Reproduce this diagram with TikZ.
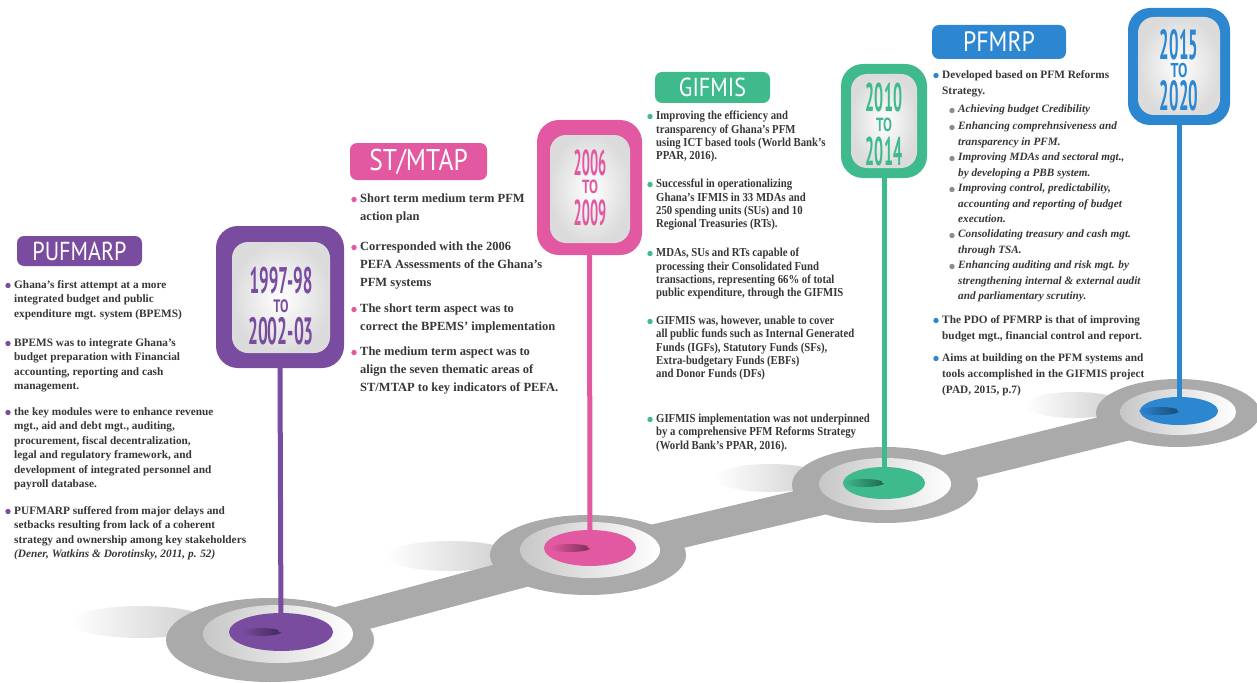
\documentclass[tikz,border=0pt]{standalone}
\usepackage{fontspec}
\usetikzlibrary{shapes.geometric}
\setmainfont{Liberation Serif}
\newfontfamily\labfont[FakeStretch=0.85]{PT Sans}
\newfontfamily\yrfont[FakeStretch=0.4]{PT Sans Bold}
\newfontfamily\yrfontB[FakeStretch=0.46]{PT Sans Bold}
\newfontfamily\tofont[FakeStretch=0.7]{PT Sans Bold}
\newfontfamily\bodyA{Liberation Serif}
\newfontfamily\bodyB[FakeStretch=0.88]{Liberation Serif}
\definecolor{purp}{RGB}{121,76,160}
\definecolor{pinkc}{RGB}{226,88,161}
\definecolor{greenc}{RGB}{62,186,140}
\definecolor{bluec}{RGB}{44,134,208}
\definecolor{txtc}{RGB}{55,55,55}
\definecolor{ringc}{RGB}{170,170,170}
\newcommand\mybul[3][6]{\fill[#2] ([xshift=-#1pt,yshift=-5.5pt]#3.north west) circle (2.7pt);}
\newcommand\stemshade[2]{\shade[left color=#1, right color=#1!55!black] ([xshift=-20pt]#2.center) ellipse [x radius=20, y radius=4];}
\newcommand\yrstack[5]{\vbox{\offinterlineskip\halign{\hfil##\hfil\cr #1\cr\noalign{\kern #4pt}#2\cr\noalign{\kern #5pt}#3\cr}}}
\tikzset{
  para/.style={anchor=north west, align=left, inner sep=0pt, text=txtc},
  lab/.style={rounded corners=7pt, text=white, inner sep=0pt, font=\labfont},
  yrbox/.style={rounded corners=22pt, inner sep=0pt},
  yrin/.style={rounded corners=16pt, inner color=white, outer color=black!14, inner sep=0pt},
  yr/.style={inner sep=0pt, anchor=north},
  ring/.style={ellipse, fill=ringc, inner sep=0pt},
  wring/.style={ellipse, left color=black!22, right color=white, inner sep=0pt},
  disk/.style={ellipse, inner sep=0pt},
  stem/.style={line width=5pt},
  band/.style={line width=30pt, ringc},
}
\begin{document}
\begin{tikzpicture}[x=1pt,y=-1pt]
\useasboundingbox (0,0) rectangle (1257,682);
\fill[white] (0,0) rectangle (1257,682);
% shadows
\shade[left color=white, right color=black!20] (140,622) ellipse [x radius=70, y radius=16];
\shade[left color=white, right color=black!20] (450,556) ellipse [x radius=65, y radius=15];
\shade[left color=white, right color=black!20] (770,478) ellipse [x radius=55, y radius=14];
\shade[left color=white, right color=black!20] (1075,405) ellipse [x radius=50, y radius=13];
% band
\coordinate (c1) at (270,640);
\coordinate (c2) at (588,555);
\coordinate (c3) at (885,485);
\coordinate (c4) at (1178,413);
\draw[band] (c1) -- (c2) -- (c3) -- (c4);
% rings
\node[ring, minimum width=208pt, minimum height=84pt] (g1) at (c1) {};
\node[wring, minimum width=150pt, minimum height=58pt] (w1) at (278,634) {};
\node[disk, fill=purp, minimum width=104pt, minimum height=38pt] (d1) at (281,632) {};
\node[ring, minimum width=196pt, minimum height=80pt] (g2) at (c2) {};
\node[wring, minimum width=140pt, minimum height=56pt] (w2) at (590,550) {};
\node[disk, fill=pinkc, minimum width=92pt, minimum height=36pt] (d2) at (590,548) {};
\node[ring, minimum width=186pt, minimum height=76pt] (g3) at (c3) {};
\node[wring, minimum width=132pt, minimum height=52pt] (w3) at (885,484) {};
\node[disk, fill=greenc, minimum width=82pt, minimum height=32pt] (d3) at (884,483) {};
\node[ring, minimum width=164pt, minimum height=68pt] (g4) at (c4) {};
\node[wring, minimum width=116pt, minimum height=46pt] (w4) at (1178,412) {};
\node[disk, fill=bluec, minimum width=78pt, minimum height=28pt] (d4) at (1179,411) {};
\stemshade{purp}{d1}\stemshade{pinkc}{d2}\stemshade{greenc}{d3}\stemshade{bluec}{d4}
% year boxes
\node[yrbox, fill=purp, minimum width=128pt, minimum height=142pt] (yb1) at (280,297) {};
\node[yrin, minimum width=98pt, minimum height=111pt] (yi1) at (281,297.5) {};
\node[yr, text=purp] (y1) at (281,266.6) {\yrstack{\yrfontB\fontsize{37}{37}\selectfont 1997-98}{\tofont\fontsize{18}{18}\selectfont TO}{\yrfontB\fontsize{38}{38}\selectfont 2002-03}{6.2}{4.4}};
\draw[stem, purp] (yb1.south) -- (d1.center);

\node[yrbox, fill=pinkc, minimum width=105pt, minimum height=135pt] (yb2) at (589.5,187.5) {};
\node[yrin, minimum width=80pt, minimum height=108pt] (yi2) at (590,189) {};
\node[yr, text=pinkc] (y2) at (590,149.9) {\yrstack{\yrfont\fontsize{36}{36}\selectfont 2006}{\tofont\fontsize{19}{19}\selectfont TO}{\yrfont\fontsize{36}{36}\selectfont 2009}{3.8}{5.7}};
\draw[stem, pinkc] (yb2.south) -- (d2.center);

\node[yrbox, fill=greenc, minimum width=86pt, minimum height=114pt] (yb3) at (884,121) {};
\node[yrin, minimum width=66pt, minimum height=94pt] (yi3) at (884,121) {};
\node[yr, text=greenc] (y3) at (884,83) {\yrstack{\yrfont\fontsize{40}{40}\selectfont 2010}{\tofont\fontsize{19}{19}\selectfont TO}{\yrfont\fontsize{40}{40}\selectfont 2014}{5.4}{5.3}};
\draw[stem, greenc] (yb3.south) -- (d3.center);

\node[yrbox, fill=bluec, minimum width=102pt, minimum height=117pt] (yb4) at (1179,66.5) {};
\node[yrin, minimum width=82pt, minimum height=98pt] (yi4) at (1179,66) {};
\node[yr, text=bluec] (y4) at (1179,29.3) {\yrstack{\yrfont\fontsize{42}{42}\selectfont 2015}{\tofont\fontsize{20}{20}\selectfont TO}{\yrfont\fontsize{42}{42}\selectfont 2020}{3.3}{2.3}};
\draw[stem, bluec] (yb4.south) -- (d4.center);

% labels
\node[lab, fill=purp, minimum width=125pt, minimum height=30pt, font=\labfont\fontsize{26}{26}\selectfont] (l1) at (79.5,251) {PUFMARP};
\node[lab, fill=pinkc, minimum width=137pt, minimum height=37pt, font=\labfont\fontsize{30}{30}\selectfont] (l2) at (418.5,161.5) {ST/MTAP};
\node[lab, fill=greenc, minimum width=115pt, minimum height=31pt, font=\labfont\fontsize{26}{26}\selectfont] (l3) at (712.5,87.5) {GIFMIS};
\node[lab, fill=bluec, minimum width=134pt, minimum height=34pt, font=\labfont\fontsize{28}{28}\selectfont] (l4) at (999,42) {PFMRP};

% PUFMARP text
\begin{scope}[every node/.append style={font=\bodyA\bfseries\fontsize{11.3}{14.5}\selectfont}]
\node[para] (pu1) at (14,280) {Ghana’s first attempt at a more\\integrated budget and public\\expenditure mgt. system (BPEMS)};
\node[para] (pu2) at (14,338) {BPEMS was to integrate Ghana’s\\budget preparation with Financial\\accounting, reporting and cash\\management.};
\node[para] (pu3) at (14,407) {the key modules were to enhance revenue\\mgt., aid and debt mgt., auditing,\\procurement, fiscal decentralization,\\legal and regulatory framework, and\\development of integrated personnel and\\payroll database.};
\node[para] (pu4) at (14,506) {PUFMARP suffered from major delays and\\setbacks resulting from lack of a coherent\\strategy and ownership among key stakeholders\\\textit{(Dener, Watkins \& Dorotinsky, 2011, p. 52)}};
\end{scope}
\mybul{purp}{pu1}\mybul{purp}{pu2}\mybul{purp}{pu3}\mybul{purp}{pu4}

% ST/MTAP text
\begin{scope}[every node/.append style={font=\bodyA\bfseries\fontsize{12.5}{18}\selectfont}]
\node[para] (st1) at (360,194) {Short term medium term PFM\\action plan};
\node[para] (st2) at (360,242) {Corresponded with the 2006\\PEFA Assessments of the Ghana’s\\PFM systems};
\node[para] (st3) at (360,304) {The short term aspect was to\\correct the BPEMS’ implementation};
\node[para] (st4) at (360,347) {The medium term aspect was to\\align the seven thematic areas of\\ST/MTAP to key indicators of PEFA.};
\end{scope}
\mybul{pinkc}{st1}\mybul{pinkc}{st2}\mybul{pinkc}{st3}\mybul{pinkc}{st4}

% GIFMIS text
\begin{scope}[every node/.append style={font=\bodyB\bfseries\fontsize{12.2}{13.3}\selectfont}]
\node[para] (gi1) at (656,111) {Improving the efficiency and\\transparency of Ghana’s PFM\\using ICT based tools (World Bank’s\\PPAR, 2016).};
\node[para] (gi2) at (656,179) {Successful in operationalizing\\Ghana’s IFMIS in 33 MDAs and\\250 spending units (SUs) and 10\\Regional Treasuries (RTs).};
\node[para] (gi3) at (656,248) {MDAs, SUs and RTs capable of\\processing their Consolidated Fund\\transactions, representing 66\% of total\\public expenditure, through the GIFMIS};
\node[para] (gi4) at (656,316) {GIFMIS was, however, unable to cover\\all public funds such as Internal Generated\\Funds (IGFs), Statutory Funds (SFs),\\Extra-budgetary Funds (EBFs)\\and Donor Funds (DFs)};
\node[para] (gi5) at (656,414) {GIFMIS implementation was not underpinned\\by a comprehensive PFM Reforms Strategy\\(World Bank’s PPAR, 2016).};
\end{scope}
\mybul{greenc}{gi1}\mybul{greenc}{gi2}\mybul{greenc}{gi3}\mybul{greenc}{gi4}\mybul{greenc}{gi5}

% PFMRP text
\begin{scope}[every node/.append style={font=\bodyA\bfseries\fontsize{11.3}{16}\selectfont}]
\node[para] (pf1) at (942,70) {Developed based on PFM Reforms\\Strategy.};
\node[para] (pf2) at (942,315) {The PDO of PFMRP is that of improving\\budget mgt., financial control and report.};
\node[para] (pf3) at (942,353) {Aims at building on the PFM systems and\\tools accomplished in the GIFMIS project\\(PAD, 2015, p.7)};
\end{scope}
\begin{scope}[every node/.append style={font=\bodyA\bfseries\itshape\fontsize{11.2}{15.3}\selectfont}]
\node[para] (ps1) at (958,105) {Achieving budget Credibility};
\node[para] (ps2) at (958,122) {Enhancing comprehnsiveness and\\transparency in PFM.};
\node[para] (ps3) at (958,153) {Improving MDAs and sectoral mgt.,\\by developing a PBB system.};
\node[para] (ps4) at (958,184) {Improving control, predictability,\\accounting and reporting of budget\\execution.};
\node[para] (ps5) at (958,230) {Consolidating treasury and cash mgt.\\through TSA.};
\node[para] (ps6) at (958,261) {Enhancing auditing and risk mgt. by\\strengthening internal \& external audit\\and parliamentary scrutiny.};
\end{scope}
\mybul{bluec}{pf1}\mybul{bluec}{pf2}\mybul{bluec}{pf3}
\mybul{black!45}{ps1}\mybul{black!45}{ps2}\mybul{black!45}{ps3}\mybul{black!45}{ps4}\mybul{black!45}{ps5}\mybul{black!45}{ps6}
\end{tikzpicture}
\end{document}
